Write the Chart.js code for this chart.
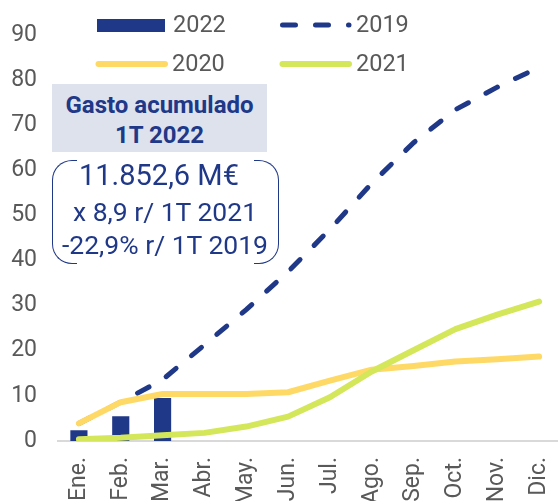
<!DOCTYPE html>
<html>
<head>
<meta charset="utf-8">
<script src="https://cdn.jsdelivr.net/npm/chart.js@4"></script>
<style>
  html, body { margin: 0; padding: 0; background: #fff; overflow: hidden; }
  #wrap { position: relative; width: 560px; height: 501px; font-family: Roboto, sans-serif; }
  #wrap canvas { position: absolute; left: 0; top: 0; }
  .lbl { position: absolute; color: #595959; font-size: 23.5px; line-height: 24px; white-space: nowrap; }
  .box { position: absolute; left: 52px; top: 84px; width: 215px; height: 68px; background: #dee2ec; }
  .boxtxt { position: absolute; left: 52px; width: 215px; text-align: center; color: #203888;
            font-weight: bold; font-size: 24px; white-space: nowrap; }
  .note { position: absolute; left: 52px; width: 226px; text-align: center; color: #203888; white-space: nowrap; }
  .br { position: absolute; top: 160px; height: 102px; width: 24px; border: 1.6px solid #203888; }
  .br.l { left: 52px; border-right: none; border-radius: 20px 0 0 20px; }
  .br.r { left: 254px; border-left: none; border-radius: 0 20px 20px 0; }
</style>
</head>
<body>
<div id="wrap">
  <canvas id="chart"></canvas>
</div>
<script>
const months = ['Ene.', 'Feb.', 'Mar.', 'Abr.', 'May.', 'Jun.', 'Jul.', 'Ago.', 'Sep.', 'Oct.', 'Nov.', 'Dic.'];
const yTicks = [0, 10, 20, 30, 40, 50, 60, 70, 80, 90];

// gasto acumulado, miles de M€
const gasto2022 = [2.4, 5.5, 9.5];
const gasto2019 = [3.9, 8.6, 13.6, 21.3, 29.1, 37.5, 46.9, 57.1, 66.1, 73.4, 78.4, 82.8];
const gasto2020 = [3.9, 8.6, 10.4, 10.4, 10.4, 10.8, 13.4, 15.8, 16.6, 17.6, 18.1, 18.7];
const gasto2021 = [0.4, 0.7, 1.3, 1.8, 3.2, 5.4, 9.7, 15.4, 20.1, 24.8, 28.0, 30.9];

const navy = '#203888';
const yellow = '#ffd966';
const green = '#d4e65a';

const wrap = document.getElementById('wrap');
const canvas = document.getElementById('chart');
canvas.width = 560;
canvas.height = 501;
canvas.style.width = '560px';
canvas.style.height = '501px';

Chart.defaults.font.family = 'Roboto, sans-serif';

new Chart(canvas.getContext('2d'), {
  type: 'bar',
  data: {
    labels: months,
    datasets: [
      {
        type: 'bar',
        label: '2022',
        data: gasto2022,
        backgroundColor: navy,
        categoryPercentage: 1,
        barPercentage: 0.41,
        order: 4
      },
      {
        type: 'line',
        label: '2019',
        data: gasto2019,
        borderColor: navy,
        borderWidth: 5,
        borderDash: [13, 20],
        borderCapStyle: 'round',
        pointRadius: 0,
        fill: false,
        order: 3
      },
      {
        type: 'line',
        label: '2020',
        data: gasto2020,
        borderColor: yellow,
        borderWidth: 6,
        borderCapStyle: 'round',
        borderJoinStyle: 'round',
        pointRadius: 0,
        fill: false,
        order: 2
      },
      {
        type: 'line',
        label: '2021',
        data: gasto2021,
        borderColor: green,
        borderWidth: 6,
        borderCapStyle: 'round',
        borderJoinStyle: 'round',
        pointRadius: 0,
        fill: false,
        order: 1
      }
    ]
  },
  options: {
    responsive: false,
    animation: false,
    layout: { padding: { top: 22, left: 0, right: 0, bottom: 0 } },
    plugins: {
      legend: { display: false },
      tooltip: { enabled: false },
      title: { display: false }
    },
    scales: {
      x: {
        grid: { display: false, drawTicks: false },
        border: { display: true, color: '#d9d9d9', width: 2 },
        ticks: {
          minRotation: 90,
          maxRotation: 90,
          padding: 16,
          color: '#595959',
          font: { size: 23 }
        },
        afterFit: s => {
          s.height = 60;
          s.paddingLeft = 0;
          s.paddingRight = 0;
        }
      },
      y: {
        min: 0,
        max: 90,
        grid: { display: false, drawTicks: false },
        border: { display: false },
        afterBuildTicks: s => { s.ticks = yTicks.map(v => ({ value: v })); },
        ticks: {
          padding: 21,
          color: '#595959',
          font: { size: 23 }
        },
        afterFit: s => { s.width = 58; }
      }
    }
  }
});

// Leyenda
const legendItems = [
  { label: '2022', x: 97, y: 25, kind: 'bar', color: navy },
  { label: '2019', x: 280, y: 25, kind: 'dash', color: navy },
  { label: '2020', x: 96, y: 64, kind: 'line', color: yellow },
  { label: '2021', x: 280, y: 64, kind: 'line', color: green }
];

legendItems.forEach(item => {
  let swatch;
  if (item.kind === 'bar') {
    swatch = `<div style="position:absolute;left:${item.x}px;top:${item.y - 6}px;width:68px;height:13px;background:${item.color};"></div>`;
  } else {
    const dash = item.kind === 'dash' ? 'stroke-dasharray="13 20"' : '';
    swatch = `<svg style="position:absolute;left:${item.x - 2}px;top:${item.y - 6}px;" width="76" height="12">
      <line x1="4.5" y1="6" x2="71" y2="6" stroke="${item.color}" stroke-width="${item.kind === 'dash' ? 5 : 6}" stroke-linecap="round" ${dash}/></svg>`;
  }
  const text = `<div class="lbl" style="left:${item.x + 76}px;top:${item.y - 13}px;">${item.label}</div>`;
  wrap.insertAdjacentHTML('beforeend', swatch + text);
});

// Cuadro de texto
wrap.insertAdjacentHTML('beforeend', `
  <div class="box"></div>
  <div class="boxtxt" style="top:92px;line-height:26px;">Gasto acumulado</div>
  <div class="boxtxt" style="top:122px;line-height:26px;">1T 2022</div>
  <div class="br l"></div>
  <div class="br r"></div>
  <div class="note" style="top:159px;line-height:32px;font-size:29px;padding-right:12px;width:214px;">11.852,6 M€</div>
  <div class="note" style="top:198px;line-height:28px;font-size:26.5px;">x 8,9 r/ 1T 2021</div>
  <div class="note" style="top:231px;line-height:28px;font-size:26.5px;">-22,9% r/ 1T 2019</div>
`);
</script>
</body>
</html>
